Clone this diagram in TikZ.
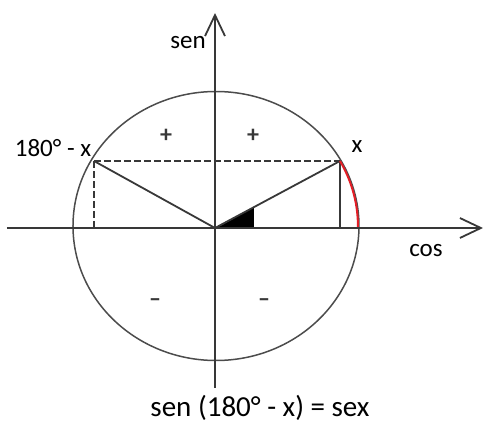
\documentclass[tikz,border=0pt]{standalone}
\usepackage{fontspec}
\setmainfont{Carlito}
\usetikzlibrary{arrows.meta}
\definecolor{ArcRed}{HTML}{E41E26}
\definecolor{Ink}{HTML}{383838}

\begin{document}
\begin{tikzpicture}[
  x=0.5pt,y=0.5pt,
  font=\fontsize{12.5}{14}\selectfont,
  axis/.style={draw=Ink,line width=1pt,
    -{Straight Barb[length=10.5pt,width=10pt,line width=0.9pt]}},
  ring/.style={draw=Ink!90,line width=0.75pt},
  radius/.style={draw=Ink,line width=0.9pt},
  proj/.style={draw=Ink,line width=0.9pt,dash pattern=on 3.3pt off 1.7pt},
  sign/.style={inner sep=0pt,text=Ink,font=\fontsize{12}{14}\selectfont\bfseries}
]
  \useasboundingbox (-215,-196) rectangle (269,228);

  \coordinate (O) at (0,0);
  \coordinate (west) at (-208,0);
  \coordinate (east) at (268,0);
  \coordinate (south) at (0,-160);
  \coordinate (north) at (0,215);
  \coordinate (px) at (125,67);
  \coordinate (pmx) at (-121,67);
  \coordinate (px0) at (125,0);
  \coordinate (pmx0) at (-121,0);

  \draw[ring] (1,2) ellipse [x radius=143,y radius=134.5];

  % angle x
  \fill (O) -- (39,0) -- (39,21) .. controls (22,12) and (9,3) .. (O);

  \draw[proj] (pmx) -- (px);
  \draw[proj] (pmx) -- (pmx0);
  \draw[radius] (O) -- (px);
  \draw[radius] (O) -- (pmx);
  \draw[radius] (px) -- (px0);
  \draw[draw=ArcRed,line width=1pt] (px) arc [start angle=29,end angle=-1,
    x radius=143,y radius=134.5];

  \draw[axis] (west) -- (east);
  \draw[axis] (south) -- (north);

  \node (sen) at (-27,185) {sen};
  \node (cos) at (211,-23) {cos};
  \node (lx) at (142,81) {x};
  \node (lmx) at (-162,80) {180° - x};

  \node[sign] (plusL) at (-49,92) {+};
  \node[sign] (plusR) at (38,92) {+};
  \node[sign] (minusL) at (-60,-75) {–};
  \node[sign] (minusR) at (49,-75) {–};

  \node[font=\fontsize{14.5}{16}\selectfont] (rule) at (45,-180)
    {sen (180° - x) = sex};
\end{tikzpicture}
\end{document}
